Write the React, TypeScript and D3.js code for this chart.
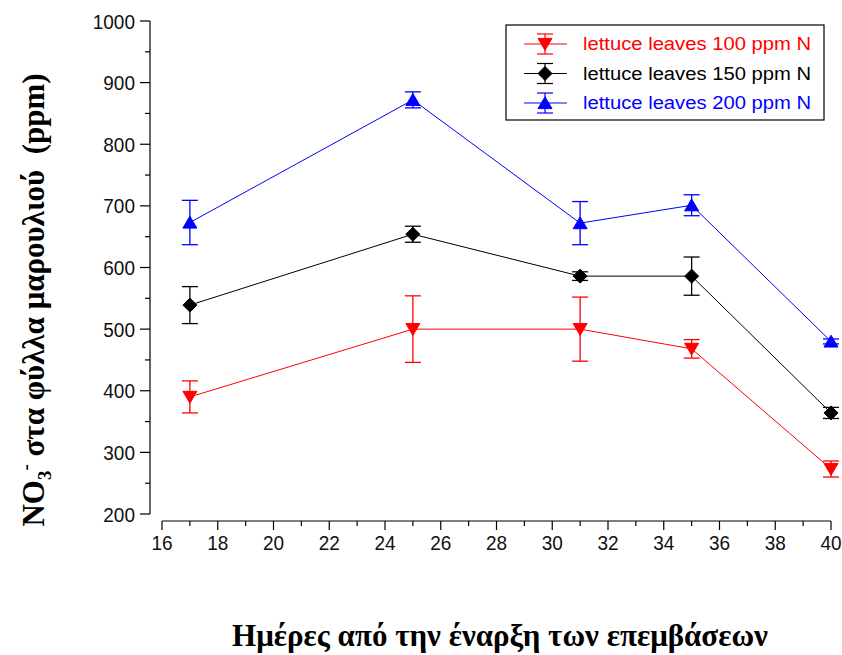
import React from "react";
import * as d3 from "d3";

const days = [17, 25, 31, 35, 40];
const seriesNames = ["lettuce leaves 100 ppm N", "lettuce leaves 150 ppm N", "lettuce leaves 200 ppm N"];
const values100 = [390, 500, 500, 468, 273];
const err100 = [26, 54, 52, 15, 13];
const values150 = [539, 654, 586, 586, 364];
const err150 = [30, 13, 7, 31, 9];
const values200 = [673, 872, 672, 701, 480];
const err200 = [36, 13, 35, 17, 4];
const xTicks = [16, 18, 20, 22, 24, 26, 28, 30, 32, 34, 36, 38, 40];
const yTicks = [200, 300, 400, 500, 600, 700, 800, 900, 1000];
const colors = ["#ff0000", "#000000", "#0000ff"];
const symbols = ["down", "diamond", "up"];

const W = 842, H = 655;

function Marker({ type, x, y, color }: { type: string; x: number; y: number; color: string }) {
  const s = 7;
  let d = "";
  if (type === "down") d = `M${x - s},${y - s * 0.8}L${x + s},${y - s * 0.8}L${x},${y + s * 0.9}Z`;
  else if (type === "up") d = `M${x - s},${y + s * 0.8}L${x + s},${y + s * 0.8}L${x},${y - s * 0.9}Z`;
  else d = `M${x},${y - s}L${x + s},${y}L${x},${y + s}L${x - s},${y}Z`;
  return <path d={d} fill={color} stroke={color} strokeWidth={1} />;
}

export default function App() {
  const x = d3.scaleLinear().domain([16, 40]).range([162, 831]);
  const y = d3.scaleLinear().domain([200, 1000]).range([514, 21]);
  const series = [
    { name: seriesNames[0], v: values100, e: err100 },
    { name: seriesNames[1], v: values150, e: err150 },
    { name: seriesNames[2], v: values200, e: err200 },
  ];
  const line = d3.line<number>().x((_, i) => x(days[i])).y((d) => y(d));
  const minorX = d3.range(16, 41, 1).filter((d) => d % 2 === 1);
  const minorY = d3.range(250, 1000, 100);
  const axisY = 521;
  const capW = 8;
  const tickFont = { fontFamily: "Liberation Sans, Arial", fontSize: 19, fill: "#111" };
  return (
    <svg width={W} height={H} style={{ position: "absolute", left: 0, top: 0, background: "#fff" }}>
      <rect x={0} y={0} width={W} height={H} fill="#fff" />
      {/* Y axis */}
      <line x1={150} x2={150} y1={y(1000)} y2={y(200)} stroke="#000" strokeWidth={1.2} />
      {yTicks.map((t) => (
        <g key={t}>
          <line x1={140} x2={150} y1={y(t)} y2={y(t)} stroke="#000" strokeWidth={1.2} />
          <text transform={`translate(135,${y(t)}) scale(1,1.1)`} dy="0.36em" textAnchor="end" {...tickFont}>
            {t}
          </text>
        </g>
      ))}
      {minorY.map((t) => (
        <line key={t} x1={145} x2={150} y1={y(t)} y2={y(t)} stroke="#000" strokeWidth={1.2} />
      ))}
      {/* X axis */}
      <line x1={x(16)} x2={x(40)} y1={axisY} y2={axisY} stroke="#000" strokeWidth={1.2} />
      {xTicks.map((t) => (
        <g key={t}>
          <line x1={x(t)} x2={x(t)} y1={axisY} y2={axisY + 9} stroke="#000" strokeWidth={1.2} />
          <text transform={`translate(${x(t)},550) scale(1,1.1)`} textAnchor="middle" {...tickFont}>
            {t}
          </text>
        </g>
      ))}
      {minorX.map((t) => (
        <line key={t} x1={x(t)} x2={x(t)} y1={axisY} y2={axisY + 5} stroke="#000" strokeWidth={1.2} />
      ))}
      {/* Series */}
      {series.map((s, si) => (
        <g key={s.name}>
          <path d={line(s.v) || ""} fill="none" stroke={colors[si]} strokeWidth={1} />
          {s.v.map((v, i) => (
            <g key={i} stroke={colors[si]} strokeWidth={1.3}>
              <line x1={x(days[i])} x2={x(days[i])} y1={y(v + s.e[i])} y2={y(v - s.e[i])} />
              <line x1={x(days[i]) - capW} x2={x(days[i]) + capW} y1={y(v + s.e[i])} y2={y(v + s.e[i])} />
              <line x1={x(days[i]) - capW} x2={x(days[i]) + capW} y1={y(v - s.e[i])} y2={y(v - s.e[i])} />
            </g>
          ))}
          {s.v.map((v, i) => (
            <Marker key={"m" + i} type={symbols[si]} x={x(days[i])} y={y(v)} color={colors[si]} />
          ))}
        </g>
      ))}
      {/* Legend */}
      <rect x={506} y={25} width={318} height={95} fill="#fff" stroke="#000" strokeWidth={1.2} />
      {series.map((s, si) => {
        const ly = 44 + si * 29.5;
        return (
          <g key={"l" + si}>
            <line x1={524} x2={567} y1={ly} y2={ly} stroke={colors[si]} strokeWidth={1.2} />
            <line x1={545} x2={545} y1={ly - 10} y2={ly + 10} stroke={colors[si]} strokeWidth={1.2} />
            <line x1={537} x2={553} y1={ly - 10} y2={ly - 10} stroke={colors[si]} strokeWidth={1.2} />
            <line x1={537} x2={553} y1={ly + 10} y2={ly + 10} stroke={colors[si]} strokeWidth={1.2} />
            <Marker type={symbols[si]} x={545} y={ly} color={colors[si]} />
            <text x={583} y={ly} dy="0.36em" fontFamily="Liberation Sans, Arial" fontSize={18} textLength={228} lengthAdjust="spacingAndGlyphs" fill={colors[si]}>
              {s.name}
            </text>
          </g>
        );
      })}
      {/* Axis titles */}
      <text
        transform="translate(44,300) rotate(-90)"
        textAnchor="middle"
        fontFamily="Liberation Serif, Times New Roman, serif"
        fontWeight="bold"
        fontSize={31}
        fill="#000"
        style={{ whiteSpace: "pre" }}
      >
        NO
        <tspan fontSize={19} dy={7}>3</tspan>
        <tspan fontSize={19} dy={-19}>-</tspan>
        <tspan dy={12}>{" στα φύλλα μαρουλιού\u00A0\u00A0(ppm)"}</tspan>
      </text>
      <text x={500} y={646} textAnchor="middle" fontFamily="Liberation Serif, Times New Roman, serif" fontWeight="bold" fontSize={31} fill="#000">
        Ημέρες από την έναρξη των επεμβάσεων
      </text>
    </svg>
  );
}
